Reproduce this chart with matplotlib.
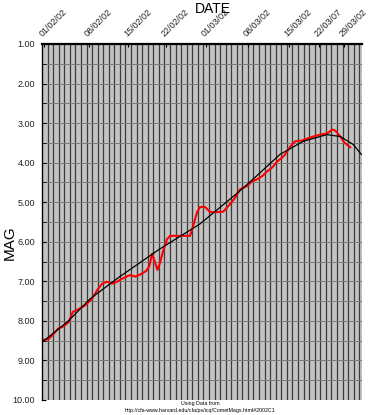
import numpy as np
import matplotlib
matplotlib.use("Agg")
import matplotlib.pyplot as plt

# x values are in grid columns (one column per day) from the left edge
obs_x = [0.13, 1.07, 2.03, 2.93, 3.83, 4.73, 5.57, 6.47, 7.73, 8.99, 9.89, 10.79,
         11.68, 12.59, 13.49, 14.57, 15.83, 16.72, 17.63, 18.70, 19.25, 19.79,
         20.32, 20.74, 21.22, 21.76, 22.48, 23.02, 24.82, 26.62, 27.15, 27.87,
         28.42, 29.31, 30.22, 31.47, 32.55, 33.46, 34.53, 35.62, 36.87, 37.76,
         38.67, 39.57, 40.47, 41.37, 42.27, 43.17, 43.71, 44.61, 45.50, 46.77,
         47.66, 48.74, 50.00, 51.26, 52.16, 52.70, 53.60, 54.32, 55.39]
obs_mag = [8.48, 8.47, 8.34, 8.19, 8.14, 8.04, 7.77, 7.71, 7.61, 7.44, 7.23, 7.06,
           7.01, 7.06, 7.01, 6.92, 6.84, 6.88, 6.83, 6.74, 6.63, 6.30,
           6.53, 6.71, 6.53, 6.23, 5.93, 5.85, 5.85, 5.85, 5.60, 5.25,
           5.12, 5.12, 5.25, 5.25, 5.24, 5.10, 4.92, 4.67, 4.59, 4.47,
           4.42, 4.34, 4.22, 4.12, 3.97, 3.87, 3.79, 3.59, 3.46, 3.44,
           3.39, 3.34, 3.29, 3.26, 3.16, 3.19, 3.34, 3.49, 3.61]

trend_x = [0.18, 4.69, 8.66, 13.98, 21.18, 28.38, 33.80, 35.26, 38.29, 42.77,
           46.94, 51.22, 53.62, 55.92, 57.38]
trend_mag = [8.52, 8.01, 7.44, 6.88, 6.18, 5.55, 4.92, 4.75, 4.37, 3.79,
             3.46, 3.29, 3.34, 3.54, 3.79]

date_labels = ["01/02/02", "08/02/02", "15/02/02", "22/02/02", "01/03/02",
               "08/03/02", "15/03/02", "22/03/07", "29/03/02"]
date_pos = [0.4, 8.5, 15.5, 22.3, 29.5, 37.1, 44.3, 49.7, 54.2]

plt.rcParams['font.family'] = ['Liberation Sans', 'DejaVu Sans']

fig = plt.figure(figsize=(3.7, 4.15), dpi=100)
ax = fig.add_axes([42 / 370, 1 - 400 / 415, 320 / 370, 356 / 415])
ax.set_facecolor("#c3c3c3")

# grid: one dark line per day, lighter lines every half magnitude
for d in range(1, 58):
    ax.axvline(d, color="#3a3a3a", lw=0.9, zorder=1)
for m in np.arange(1.5, 10, 0.5):
    ax.axhline(m, color="#7a7a7a", lw=0.7, zorder=1)

ax.plot(trend_x, trend_mag, color="black", lw=0.9, zorder=3)
ax.plot(obs_x, obs_mag, color="#ff0000", lw=1.5, zorder=2)

ax.set_xlim(0, 57.5)
ax.set_ylim(10, 1)

ax.set_yticks(np.arange(1, 11))
ax.set_yticklabels(["%.2f" % v for v in np.arange(1, 11)], fontsize=6.5,
                   color="#222222")
ax.set_yticks(np.arange(1.5, 10, 1), minor=True)
ax.tick_params(axis="y", which="both", direction="in", length=3, pad=5)

ax.xaxis.tick_top()
ax.set_xticks(date_pos)
ax.set_xticklabels([])
ax.tick_params(axis="x", direction="in", length=2)
for p, lab in zip(date_pos, date_labels):
    ax.annotate(lab, (p, 1.0), xycoords=ax.get_xaxis_transform(),
                xytext=(0, 4), textcoords="offset points", rotation=45,
                rotation_mode="anchor", ha="left", va="bottom", fontsize=6.5,
                color="#222222", annotation_clip=False)

ax.spines["top"].set_linewidth(1.6)
ax.spines["left"].set_linewidth(1.0)
ax.spines["right"].set_visible(False)
ax.spines["bottom"].set_visible(False)

fig.text(213 / 370, 1 - 9 / 415, "DATE", ha="center", va="center", fontsize=10)
fig.text(10 / 370, 1 - 243 / 415, "MAG", ha="center", va="center", fontsize=11,
         rotation=90)
fig.text(200 / 370, 1 - 403 / 415, "Using Data from", ha="center", va="center",
         fontsize=3.8)
fig.text(200 / 370, 1 - 410 / 415,
         "http://cfa-www.harvard.edu/cfa/ps/icq/CometMags.html#2002C1",
         ha="center", va="center", fontsize=3.8)

fig.savefig("out.png", dpi=100)
